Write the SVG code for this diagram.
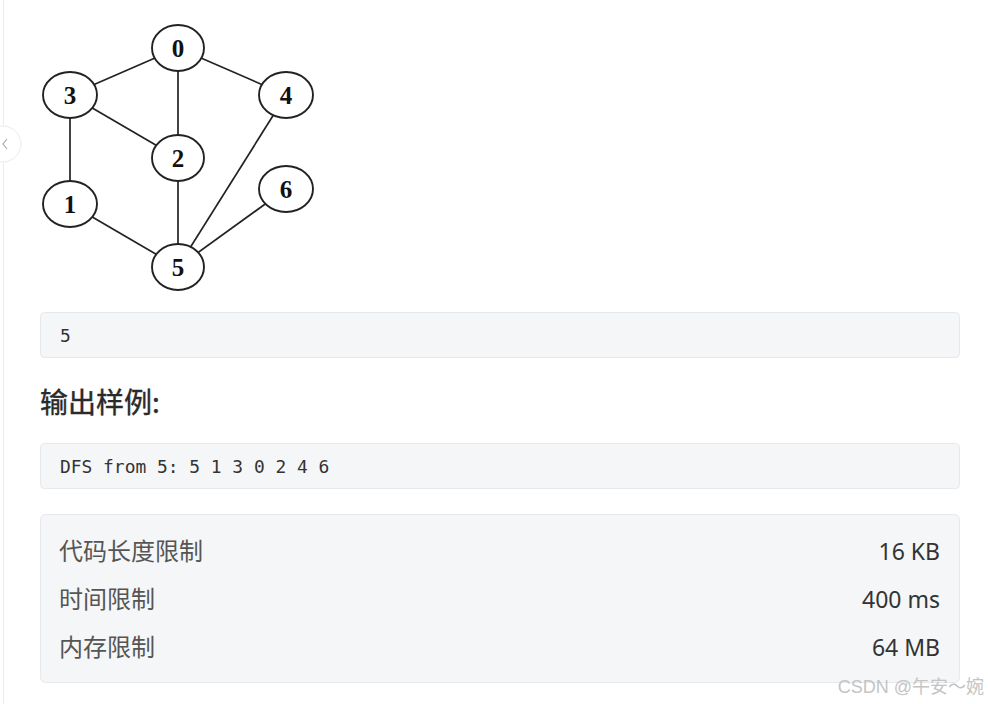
<svg xmlns="http://www.w3.org/2000/svg" width="988" height="704" viewBox="0 0 988 704">
<style>
.edge{stroke:#222;stroke-width:1.7;fill:none}
.node ellipse{fill:#fff;stroke:#222;stroke-width:1.9}
.node text{font-family:"Liberation Serif",serif;font-weight:bold;font-size:25px;fill:#111;text-anchor:middle}
.box{fill:#f5f6f7;stroke:#e6e8eb;stroke-width:1}
.mono{font-family:"DejaVu Sans Mono","Liberation Mono",monospace;font-size:17.9px;fill:#333}
.lbl{font-family:"Noto Sans CJK SC",sans-serif;font-size:24px;fill:#555}
.val{font-family:"Noto Sans","Noto Sans CJK SC",sans-serif;font-size:23px;fill:#333;text-anchor:end}
</style>
<rect width="988" height="704" fill="#fff"/>
<line x1="3.5" y1="0" x2="3.5" y2="704" stroke="#ececec" stroke-width="1"/>
<circle cx="3" cy="144" r="18" fill="#fff" stroke="#ececec" stroke-width="1"/>
<polyline points="7,139 3,144 7,149" fill="none" stroke="#aaa" stroke-width="1.2"/>
<g id="connectors">
<line class="edge" x1="178" y1="48" x2="70" y2="95"/>
<line class="edge" x1="178" y1="48" x2="286" y2="95"/>
<line class="edge" x1="178" y1="48" x2="178" y2="158"/>
<line class="edge" x1="70" y1="95" x2="178" y2="158"/>
<line class="edge" x1="70" y1="95" x2="70" y2="204"/>
<line class="edge" x1="178" y1="158" x2="178" y2="267"/>
<line class="edge" x1="286" y1="95" x2="178" y2="267"/>
<line class="edge" x1="286" y1="189" x2="178" y2="267"/>
<line class="edge" x1="70" y1="204" x2="178" y2="267"/>
</g>
<g id="n0" class="node"><ellipse cx="178" cy="48" rx="26" ry="23"/><text x="178" y="57">0</text></g>
<g id="n3" class="node"><ellipse cx="70" cy="95" rx="27" ry="23"/><text x="70" y="104">3</text></g>
<g id="n4" class="node"><ellipse cx="286" cy="95" rx="27" ry="23"/><text x="286" y="104">4</text></g>
<g id="n2" class="node"><ellipse cx="178" cy="158" rx="26" ry="23"/><text x="178" y="167">2</text></g>
<g id="n6" class="node"><ellipse cx="286" cy="189" rx="27" ry="23"/><text x="286" y="198">6</text></g>
<g id="n1" class="node"><ellipse cx="70" cy="204" rx="27" ry="23"/><text x="70" y="213">1</text></g>
<g id="n5" class="node"><ellipse cx="178" cy="267" rx="26" ry="23"/><text x="178" y="276">5</text></g>
<g id="input">
<rect class="box" x="40.5" y="312.5" width="919" height="45" rx="4"/>
<text class="mono" x="60" y="342">5</text>
</g>
<text x="40" y="413" font-family="Noto Sans CJK SC, sans-serif" font-size="28" fill="#2a2a2a" stroke="#2a2a2a" stroke-width="0.4">输出样例:</text>
<g id="output">
<rect class="box" x="40.5" y="443.5" width="919" height="45" rx="4"/>
<text class="mono" x="60" y="473">DFS from 5: 5 1 3 0 2 4 6</text>
</g>
<g id="limits">
<rect class="box" x="40.5" y="514.5" width="919" height="168" rx="5"/>
<text class="lbl" x="59" y="560">代码长度限制</text>
<text class="val" x="940" y="560">16 KB</text>
<text class="lbl" x="59" y="608">时间限制</text>
<text class="val" x="940" y="608">400 ms</text>
<text class="lbl" x="59" y="656">内存限制</text>
<text class="val" x="940" y="656">64 MB</text>
</g>
<text x="984" y="693" text-anchor="end" font-family="Liberation Sans, Noto Sans CJK SC, sans-serif" font-size="18" fill="#c4c4c4">CSDN @午安～婉</text>
</svg>
